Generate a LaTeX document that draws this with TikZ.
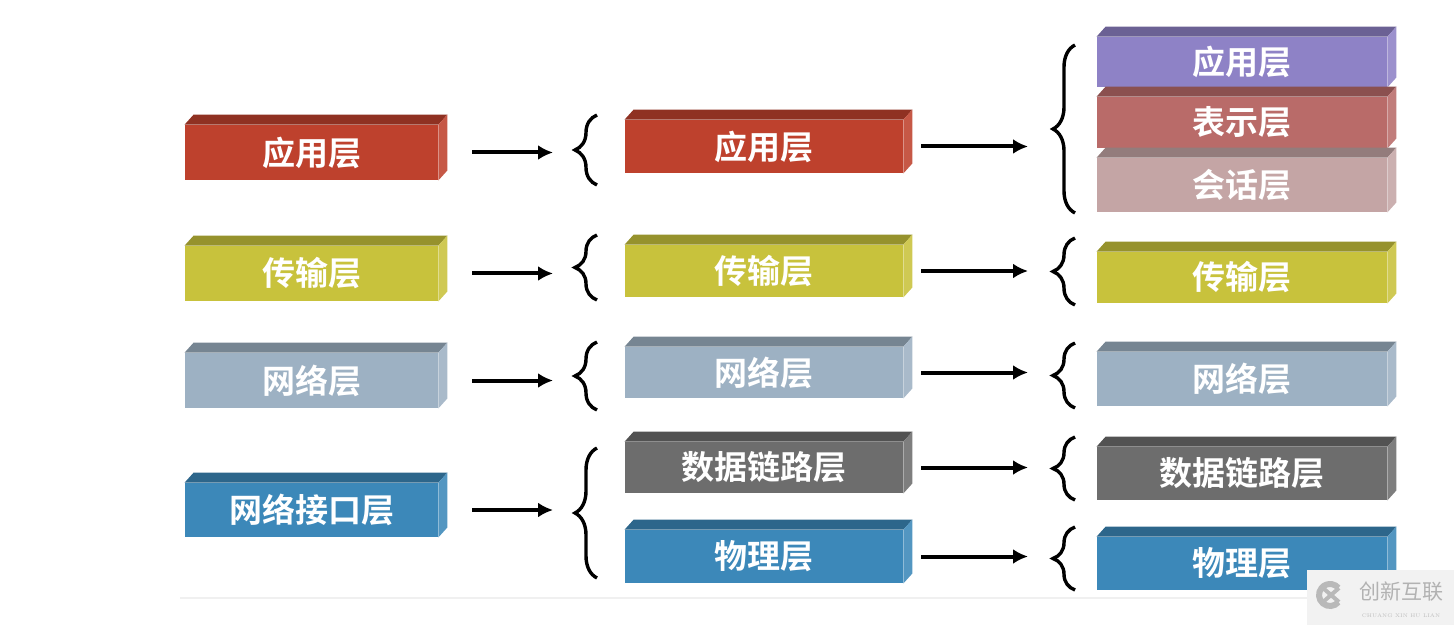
\documentclass[tikz,border=0pt]{standalone}
\usepackage{fontspec}
\usepackage{xcolor}
\usetikzlibrary{arrows.meta,decorations.pathreplacing}
\newfontfamily\cjk{Noto Sans CJK SC}[BoldFont={Noto Sans CJK SC Bold}]

\definecolor{appred}{HTML}{BE412D}
\definecolor{transyel}{HTML}{C8C23C}
\definecolor{netgrey}{HTML}{9DB1C3}
\definecolor{ifblue}{HTML}{3C88B9}
\definecolor{linkgrey}{HTML}{6D6D6D}
\definecolor{apppurple}{HTML}{8E82C6}
\definecolor{presred}{HTML}{B96B69}
\definecolor{sesspink}{HTML}{C4A5A5}

\tikzset{
    layerface/.style={rectangle, inner sep=0pt, text=white,
        font=\cjk\bfseries\fontsize{16.5}{18}\selectfont},
    arr/.style={->, line width=2pt},
    brc/.style={decorate, decoration={brace, amplitude=11pt}, line width=1.7pt}
}

% 3D box: name, x1, y1, x2, y2 (front face), colour, text
\newcommand{\layerbox}[7]{%
    \node[layerface, fill=#6, minimum width={(#4-#2)*0.5pt}, minimum height={(#5-#3)*0.5pt}]
        (#1) at ({(#2+#4)/2},{(#3+#5)/2}) {#7};
    \fill[#6!75!black] (#1.north west) -- ++(9,-10) -- ([shift={(9,-10)}]#1.north east) -- (#1.north east) -- cycle;
    \fill[#6!88!white] (#1.north east) -- ([shift={(9,-10)}]#1.north east) -- ([shift={(9,-10)}]#1.south east) -- (#1.south east) -- cycle;
}

\begin{document}
\begin{tikzpicture}[x=0.5pt, y=-0.5pt, >={Latex[length=7.5pt,width=7.5pt]}]
    \useasboundingbox (0,0) rectangle (1454,625);
    \draw[gray!12, line width=0.6pt] (180,598) -- (1454,598);

    % left column
    \layerbox{l1}{185}{125}{438}{180}{appred}{应用层}
    \layerbox{l2}{185}{246}{438}{301}{transyel}{传输层}
    \layerbox{l3}{185}{353}{438}{408}{netgrey}{网络层}
    \layerbox{l4}{185}{483}{438}{537}{ifblue}{网络接口层}

    % left braces
    \draw[brc] (597,185) -- (597,115);
    \draw[brc] (597,300) -- (597,235);
    \draw[brc] (597,410) -- (597,342);
    \draw[brc] (597,578) -- (597,448);
    \coordinate (lb1) at (553,152);
    \coordinate (lb2) at (553,270);
    \coordinate (lb3) at (553,378);
    \coordinate (lb4) at (553,507);
    \foreach \i in {1,...,4}
        \draw[arr] ([xshift=17pt]l\i.east) -- (l\i.east -| lb\i);

    % middle column
    \layerbox{m1}{625}{120}{903}{173}{appred}{应用层}
    \layerbox{m2}{625}{245}{903}{297}{transyel}{传输层}
    \layerbox{m3}{625}{347}{903}{398}{netgrey}{网络层}
    \layerbox{m4}{625}{442}{903}{493}{linkgrey}{数据链路层}
    \layerbox{m5}{625}{530}{903}{583}{ifblue}{物理层}

    % right braces
    \draw[brc] (1075,213) -- (1075,45);
    \draw[brc] (1075,305) -- (1075,238);
    \draw[brc] (1075,408) -- (1075,343);
    \draw[brc] (1075,500) -- (1075,437);
    \draw[brc] (1075,590) -- (1075,527);
    \foreach \i in {1,...,5}
        \coordinate (rb\i) at (1028,0);
    \foreach \i in {1,...,5}
        \draw[arr] ([xshift=9pt]m\i.east) -- (m\i.east -| rb\i);

    % right column
    \layerbox{r1}{1097}{37}{1387}{87}{apppurple}{应用层}
    \layerbox{r2}{1097}{97}{1387}{148}{presred}{表示层}
    \layerbox{r3}{1097}{158}{1387}{212}{sesspink}{会话层}
    \layerbox{r4}{1097}{252}{1387}{303}{transyel}{传输层}
    \layerbox{r5}{1097}{352}{1387}{406}{netgrey}{网络层}
    \layerbox{r6}{1097}{447}{1387}{500}{linkgrey}{数据链路层}
    \layerbox{r7}{1097}{537}{1387}{590}{ifblue}{物理层}

    % watermark
    \fill[gray!10] (1307,570) rectangle (1454,625);
    \draw[gray!55, line width=3pt] (1330,595) ++(40:11) arc (40:320:11);
    \draw[gray!55, line width=2pt] (1323,588) -- (1339,602) (1323,602) -- (1339,588);
    \node[text=gray!60, font=\cjk\fontsize{10.5}{12}\selectfont] (wm) at (1401,592) {创新互联};
    \node[text=gray!50, font=\fontsize{2.6}{3}\selectfont, below=-1pt] (wmsub) at (wm.south) {CHUANG XIN HU LIAN};
\end{tikzpicture}
\end{document}
